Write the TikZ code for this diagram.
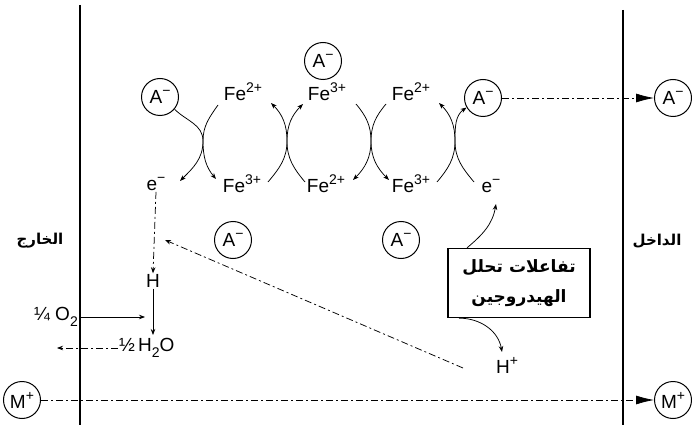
\documentclass[tikz,border=0pt]{standalone}
\usepackage{fontspec}
\setmainfont{Liberation Sans}
\newfontfamily\arabicfont[Script=Arabic]{DejaVu Sans}
\TeXXeTstate=1
\usetikzlibrary{arrows.meta}
\newcommand\mysup[1]{\raisebox{0.42em}{\fontsize{14}{14}\selectfont #1}}
\newcommand\mysub[1]{\raisebox{-0.28em}{\fontsize{14}{14}\selectfont #1}}
\begin{document}
\begin{tikzpicture}[x=1pt,y=-1pt,
  ion/.style={circle,draw,line width=1pt,minimum size=37pt,inner sep=0pt,font=\fontsize{19}{19}\selectfont},
  lbl/.style={inner sep=1pt,font=\fontsize{19}{19}\selectfont},
  arlbl/.style={inner sep=1pt,font=\arabicfont\bfseries\fontsize{15}{15}\selectfont},
  arr/.style={-{Stealth[length=6pt,width=4.5pt]},line width=0.75pt},
  bigarr/.style={-{Latex[length=18pt,width=9pt]},line width=0.75pt},
  dd/.style={dash pattern=on 7pt off 3pt on 2pt off 3pt},
  membrane/.style={line width=1.6pt}]
\useasboundingbox (0,0) rectangle (692,430);
% membranes
\coordinate (L1) at (80,5); \coordinate (L2) at (80,425);
\coordinate (R1) at (623,10); \coordinate (R2) at (623,425);
\draw[membrane] (L1) -- (L2);
\draw[membrane] (R1) -- (R2);
% side labels
\node[arlbl] (outside) at (40,241) {\beginR الخارج\endR};
\node[arlbl] (inside) at (657,241) {\beginR الداخل\endR};
% ions
\node[ion] (Atop) at (323,61) {A\mysup{−}};
\node[ion] (A1) at (160,97) {A\mysup{−}};
\node[ion] (A4) at (483,98) {A\mysup{−}};
\node[ion] (Afar) at (673,98) {A\mysup{−}};
\node[ion] (Amid1) at (233,240) {A\mysup{−}};
\node[ion] (Amid2) at (401,240) {A\mysup{−}};
\node[ion] (Mleft) at (22,400) {M\mysup{+}};
\node[ion] (Mright) at (673,400) {M\mysup{+}};
% iron labels
\node[lbl] (FeT1) at (243,92) {Fe\mysup{2+}};
\node[lbl] (FeT2) at (327,92) {Fe\mysup{3+}};
\node[lbl] (FeT3) at (411,92) {Fe\mysup{2+}};
\node[lbl] (FeB1) at (242,184) {Fe\mysup{3+}};
\node[lbl] (FeB2) at (326,184) {Fe\mysup{2+}};
\node[lbl] (FeB3) at (411,184) {Fe\mysup{3+}};
\node[lbl] (eL) at (156,184) {e\mysup{−}};
\node[lbl] (eR) at (491,186) {e\mysup{−}};
% cross 1
\coordinate (c1) at (203,141);
\coordinate (c1tr) at (218,105); \coordinate (c1bl) at (180,181); \coordinate (c1br) at (216,179);
\draw[arr] (A1.-40) to[out=-45,in=90] (c1) to[out=-90,in=45] (c1bl);
\draw[arr] (c1tr) to[out=-125,in=90] (c1) to[out=-90,in=130] (c1br);
% cross 2
\coordinate (c2) at (287,141);
\coordinate (c2tl) at (271,103); \coordinate (c2tr) at (303,104);
\coordinate (c2bl) at (268,182); \coordinate (c2br) at (305,182);
\draw[arr] (c2bl) to[out=50,in=-90] (c2) to[out=90,in=-45] (c2tl);
\draw[arr] (c2br) to[out=130,in=-90] (c2) to[out=90,in=-135] (c2tr);
% cross 3
\coordinate (c3) at (371,141);
\coordinate (c3tl) at (356,104); \coordinate (c3tr) at (386,104);
\coordinate (c3bl) at (353,180); \coordinate (c3br) at (389,180);
\draw[arr] (c3tl) to[out=-50,in=90] (c3) to[out=-90,in=45] (c3bl);
\draw[arr] (c3tr) to[out=-130,in=90] (c3) to[out=-90,in=135] (c3br);
% cross 4
\coordinate (c4) at (455,141);
\coordinate (c4tl) at (439,103);
\coordinate (c4bl) at (437,182); \coordinate (c4br) at (474,182);
\draw[arr] (c4bl) to[out=50,in=-90] (c4) to[out=90,in=-45] (c4tl);
\draw[arr] (c4br) to[out=130,in=-90] (c4) to[out=90,in=-145] (A4.-150);
% transport lines
\draw[bigarr,dd] (A4.east) -- (Afar.west);
\draw[bigarr,dd] (Mleft.east) -- (Mright.west);
% left chain
\node[lbl] (H) at (153,281) {H};
\node[lbl,anchor=west] (H2O) at (118,348) {½\,H\mysub{2}O};
\node[lbl,anchor=east] (O2) at (79,317) {¼ O\mysub{2}};
\coordinate (Hend) at (153,335);
\coordinate (O2end) at (145,317);
\coordinate (H2Oend) at (57,348);
\draw[arr,dd] (eL.south) -- (H.north);
\draw[arr] (H.south) -- (Hend);
\draw[arr] (O2.east) -- (O2end);
\draw[arr,dd] (H2O.west) -- (H2Oend);
% long diagonal
\coordinate (dS) at (463,368); \coordinate (dE) at (165,240);
\draw[arr,dd] (dS) -- (dE);
% box
\node[draw,line width=1.3pt,minimum width=142pt,minimum height=69pt,align=center,
  font=\arabicfont\bfseries\fontsize{17}{30}\selectfont] (box) at (519,283)
  {\beginR تفاعلات تحلل\endR\\\beginR الهيدروجين\endR};
\node[lbl] (Hp) at (507,365) {H\mysup{+}};
\coordinate (up) at (496,204);
\coordinate (dn) at (502,352);
\draw[arr] ([xshift=-52pt]box.north) to[out=40,in=-100] (up);
\draw[arr] ([xshift=-60pt]box.south) to[out=0,in=100] (dn);
\end{tikzpicture}
\end{document}
